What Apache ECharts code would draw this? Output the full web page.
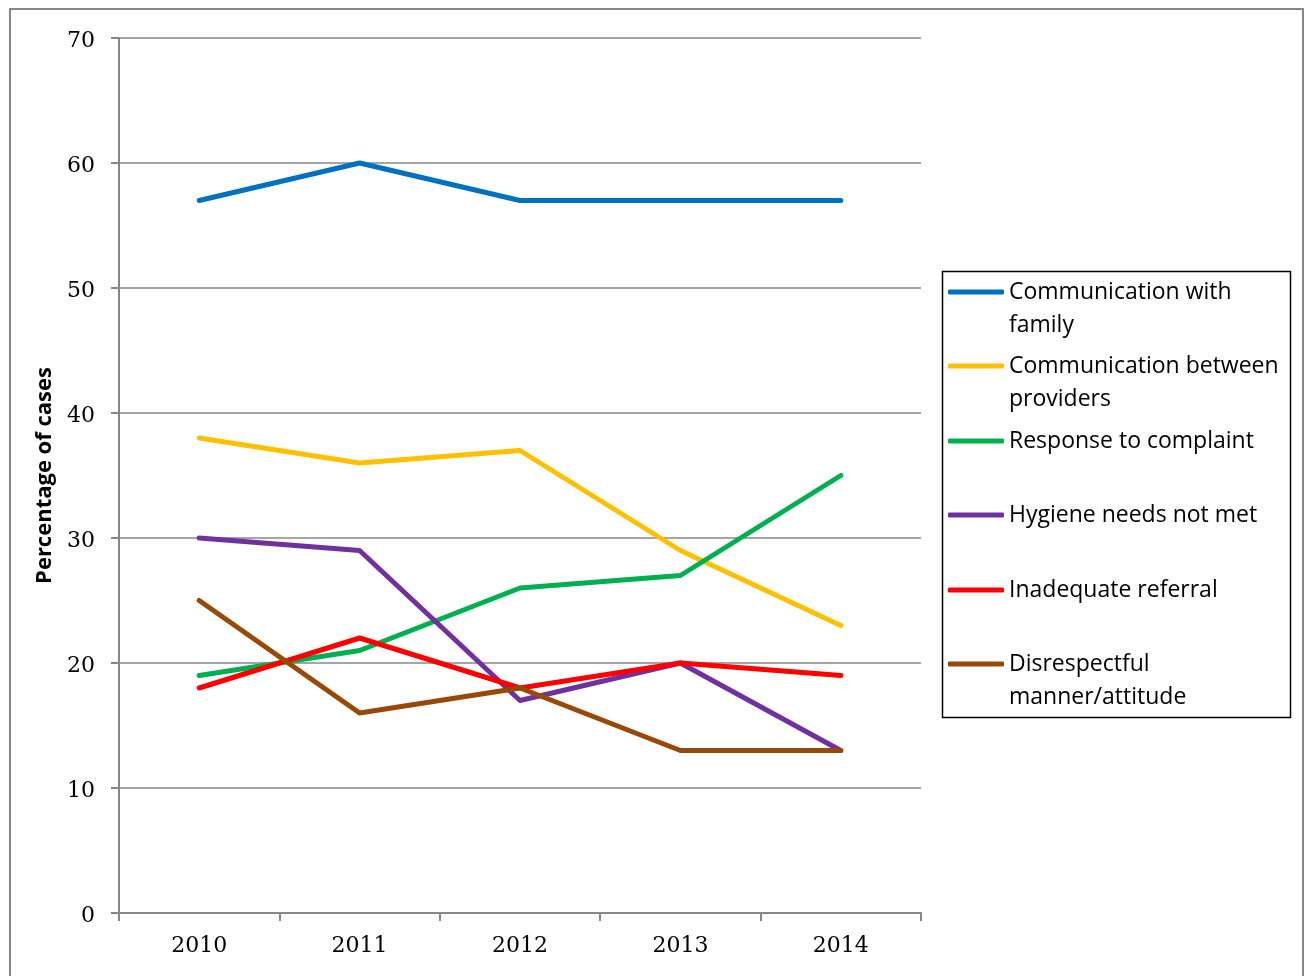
<!DOCTYPE html>
<html>
<head>
<meta charset="utf-8">
<title>Complaint categories 2010–2014</title>
<script src="https://cdn.jsdelivr.net/npm/echarts@6/dist/echarts.min.js"></script>
<style>
  html, body { margin: 0; padding: 0; background: #fff; }
  #chart { width: 1309px; height: 976px; }
</style>
</head>
<body>
<div id="chart"></div>
<script>
// Years on the category axis
const years = ['2010', '2011', '2012', '2013', '2014'];

// Percentage of cases per complaint category
const communicationWithFamily = [57, 60, 57, 57, 57];
const communicationBetweenProviders = [38, 36, 37, 29, 23];
const responseToComplaint = [19, 21, 26, 27, 35];
const hygieneNeedsNotMet = [30, 29, 17, 20, 13];
const inadequateReferral = [18, 22, 18, 20, 19];
const disrespectfulManner = [25, 16, 18, 13, 13];

// Series names (legend text wraps onto two lines where needed)
const seriesNames = [
  'Communication with\nfamily',
  'Communication between\nproviders',
  'Response to complaint',
  'Hygiene needs not met',
  'Inadequate referral',
  'Disrespectful\nmanner/attitude'
];
const seriesValues = [
  communicationWithFamily,
  communicationBetweenProviders,
  responseToComplaint,
  hygieneNeedsNotMet,
  inadequateReferral,
  disrespectfulManner
];
const seriesColors = ['#0070C0', '#FFC000', '#00B050', '#7030A0', '#FF0000', '#984807'];

const axisGrey = '#878787';
const serif = '"DejaVu Serif", "Liberation Serif", serif';
const sans = '"Open Sans", "Noto Sans", sans-serif';

// Legend rows: vertical centre of each swatch
const legendRowY = [292, 366, 441, 515, 590, 664];
const LINE_H = 33;

// One legend per row so each swatch sits beside the first line of its text.
// Two-line entries get a blank leading line so the swatch lines up with line one.
const legends = seriesNames.map((name, i) => {
  const twoLines = name.indexOf('\n') >= 0;
  return {
    orient: 'vertical',
    left: 948,
    top: legendRowY[i] - (twoLines ? LINE_H * 1.5 : LINE_H * 0.5),
    padding: 0,
    itemWidth: 56,
    itemHeight: 5,
    itemGap: 0,
    icon: 'roundRect',
    selectedMode: false,
    data: [name],
    formatter: n => (n.indexOf('\n') >= 0 ? ' \n' + n : n),
    textStyle: {
      fontFamily: sans,
      fontSize: 23,
      color: '#000',
      lineHeight: LINE_H
    }
  };
});

const option = {
  backgroundColor: '#fff',
  animation: false,
  grid: { left: 119, top: 38, right: 388, bottom: 63, containLabel: false },
  legend: legends,
  graphic: [
    {
      type: 'rect',
      shape: { x: 10, y: 9, width: 1293, height: 1000 },
      style: { fill: 'none', stroke: axisGrey, lineWidth: 2 },
      silent: true,
      z: -1
    },
    {
      type: 'rect',
      shape: { x: 942.5, y: 271.5, width: 348, height: 446 },
      style: { fill: 'none', stroke: '#000', lineWidth: 1.5 },
      silent: true,
      z: -1
    }
  ],
  xAxis: {
    type: 'category',
    data: years,
    boundaryGap: true,
    axisLine: { lineStyle: { color: axisGrey, width: 2 } },
    axisTick: { show: true, length: 8, inside: false, lineStyle: { color: axisGrey, width: 2 } },
    axisLabel: { margin: 22, fontFamily: serif, fontSize: 22, color: '#000' },
    splitLine: { show: false }
  },
  yAxis: {
    type: 'value',
    min: 0,
    max: 70,
    interval: 10,
    name: 'Percentage of cases',
    nameLocation: 'middle',
    nameGap: 59,
    nameTextStyle: { fontFamily: sans, fontSize: 22, fontWeight: 'bold', color: '#000' },
    axisLine: { show: true, lineStyle: { color: axisGrey, width: 2 } },
    axisTick: { show: true, length: 8, lineStyle: { color: axisGrey, width: 2 } },
    axisLabel: {
      margin: 24,
      color: '#000',
      formatter: v => '{v|' + v + '}',
      rich: { v: { fontFamily: serif, fontSize: 22, color: '#000', padding: [6, 0, 0, 0] } }
    },
    splitLine: { show: true, lineStyle: { color: axisGrey, width: 1.5 } }
  },
  series: seriesNames.map((name, i) => ({
    type: 'line',
    name: name,
    data: seriesValues[i],
    symbol: 'none',
    showSymbol: false,
    color: seriesColors[i],
    lineStyle: { width: 5, color: seriesColors[i], cap: 'round', join: 'round' },
    z: 2 + i
  }))
};

const chart = echarts.init(document.getElementById('chart'), null, { renderer: 'canvas' });
chart.setOption(option);
</script>
</body>
</html>
